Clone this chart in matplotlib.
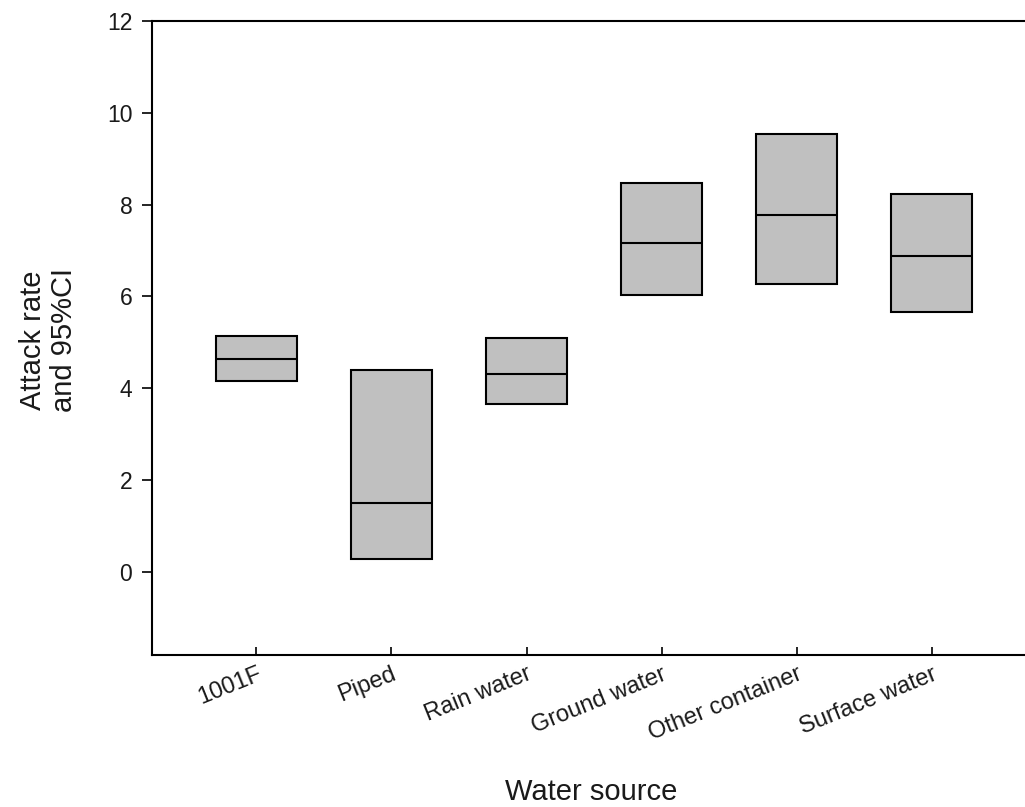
import matplotlib
matplotlib.use("Agg")
import numpy as np
import matplotlib.pyplot as plt

plt.rcParams["font.family"] = ["Liberation Sans", "DejaVu Sans"]

# attack rate with 95% CI per water source
sources = ["1001F", "Piped", "Rain water", "Ground water", "Other container", "Surface water"]
ci_low = [4.16, 0.28, 3.67, 6.03, 6.28, 5.67]
ci_high = [5.14, 4.40, 5.09, 8.48, 9.54, 8.23]
rate = [4.64, 1.51, 4.32, 7.17, 7.78, 6.89]

TEXT = "#1a1a1a"

fig = plt.figure(figsize=(10.25, 8.07), dpi=100)
ax = fig.add_axes([0.148, 0.1884, 0.852, 0.7859])

x = np.arange(len(sources))
low = np.array(ci_low)
high = np.array(ci_high)
w = 0.6
ax.bar(x, high - low, bottom=low, width=w, color="#c0c0c0",
       edgecolor="black", linewidth=1.5, zorder=2)
ax.hlines(rate, x - w / 2, x + w / 2, colors="black", linewidth=1.5, zorder=3)

ax.set_xlim(-0.775, 5.69)
ax.set_ylim(-1.8, 12)
ax.set_yticks(np.arange(0, 13, 2))
ax.set_xticks(x)
ax.set_xticklabels(sources, rotation=22, ha="right", va="top",
                   rotation_mode="anchor", fontsize=17, color=TEXT)
ax.tick_params(axis="y", direction="out", length=7, width=1.2, pad=7,
               labelsize=16.5, labelcolor=TEXT)
ax.tick_params(axis="x", direction="in", length=6, width=1.2, pad=6)

ax.spines["right"].set_visible(False)
for s in ["left", "bottom", "top"]:
    ax.spines[s].set_linewidth(1.5)

fig.text(48.5 / 1025, 1 - 340 / 807, "Attack rate\nand 95%CI", rotation=90,
         ha="center", va="center", multialignment="center",
         fontsize=21, linespacing=1.1, color=TEXT)
fig.text(591 / 1025, 1 - 792 / 807, "Water source", ha="center", va="center",
         fontsize=21, color=TEXT)

fig.savefig("out.png", dpi=100)
